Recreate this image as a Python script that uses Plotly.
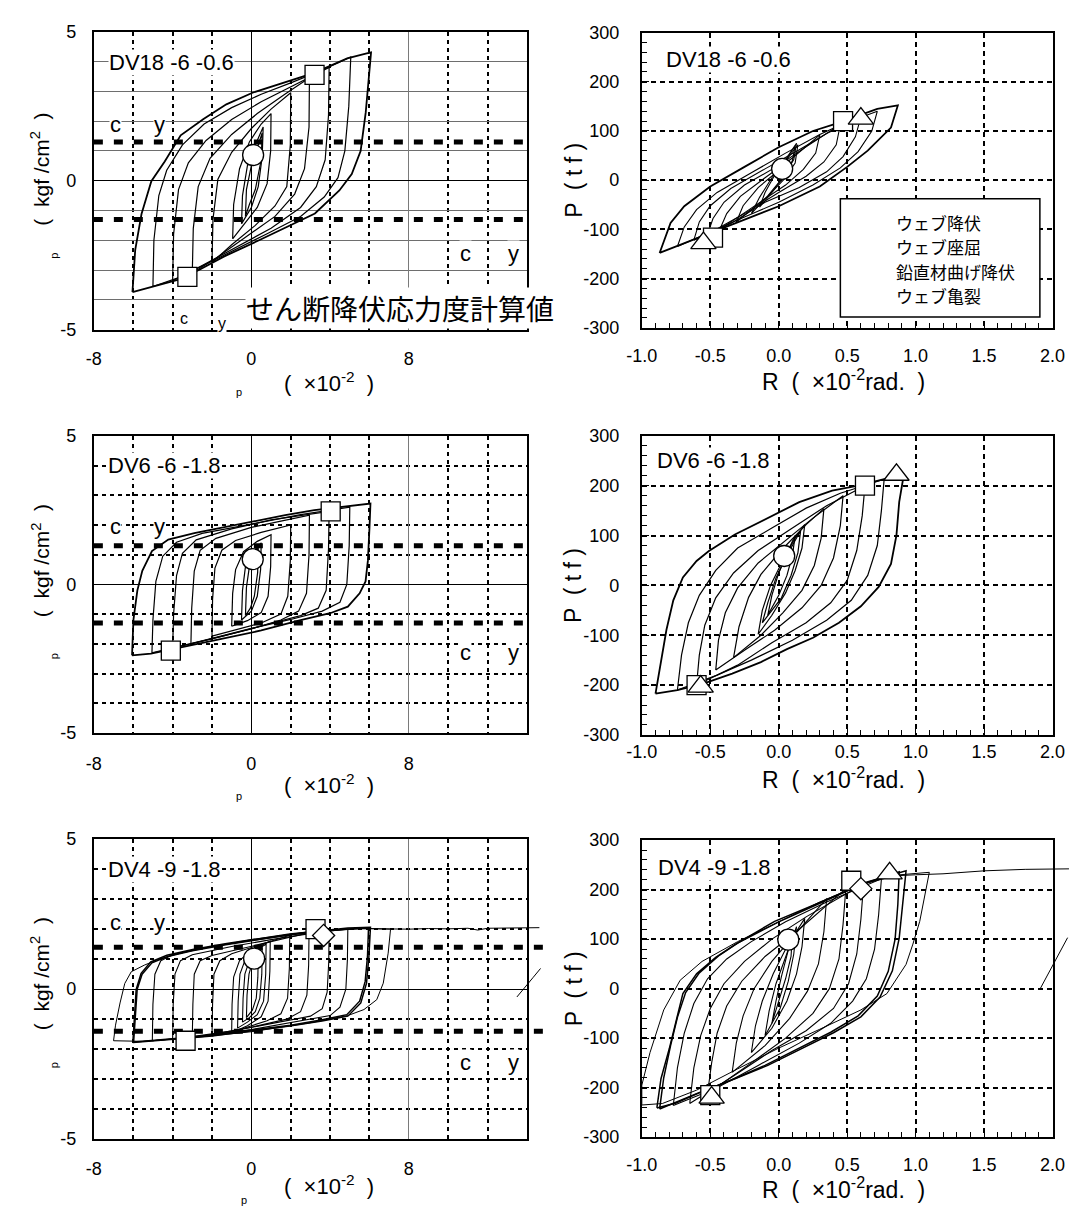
import plotly.graph_objects as go

W, H = 1085, 1218
SANS = "Liberation Sans, Arial, Helvetica, sans-serif"
JP = "Noto Sans CJK JP, Noto Sans CJK SC, sans-serif"

# ---------------- tick labels / texts ----------------
LEFT_XTICKS = [-8, 0, 8]
LEFT_YTICKS = [-5, 0, 5]
LEFT_XGRID = [-6, -4, -2, 2, 4, 6, 10, 12]
LEFT_YGRID = [-4, -3, -2, -1, 1, 2, 3, 4]
RIGHT_XTICKS = [-1.0, -0.5, 0.0, 0.5, 1.0, 1.5, 2.0]
RIGHT_XTEXT = ["-1.0", "-0.5", "0.0", "0.5", "1.0", "1.5", "2.0"]
RIGHT_YTICKS = [-300, -200, -100, 0, 100, 200, 300]
SPECIMENS = ["DV18 -6 -0.6", "DV6 -6 -1.8", "DV4 -9 -1.8"]
TAU_CY = [1.3, 1.3, 1.4]
LEGEND_LABELS = ["ウェブ降伏", "ウェブ座屈", "鉛直材曲げ降伏", "ウェブ亀裂"]
CALC_LABEL = "せん断降伏応力度計算値"

# ---------------- panel 1 : DV18-6-0.6  (tau_p vs gamma_p) ----------------
P1_OUTER = [(-6.04, -3.74), (-5.9, -2.33), (-5.58, -1.12), (-5.08, -0.02), (-4.4, 0.64), (-3.59, 1.52),
            (-2.43, 2.07), (-1.27, 2.56), (0.06, 2.95), (1.56, 3.28), (2.88, 3.55), (3.71, 3.77), (4.87, 4.1),
            (5.86, 4.27), (6.08, 4.3), (5.81, 2.29), (5.55, 0.99), (5.1, 0.22), (4.47, -0.33), (3.23, -1.1),
            (2.17, -1.44), (0.39, -2.0), (-1.4, -2.55), (-2.64, -2.99), (-3.7, -3.32), (-4.94, -3.54), (-6.04, -3.74)]
P1_INNER = [
    [(-5.0, -3.55), (-4.95, -2.0), (-4.7, -0.5), (-4.3, 0.35), (-3.5, 1.2), (-2.4, 1.9), (-1.0, 2.45), (0.5, 2.9),
     (2.0, 3.28), (3.5, 3.68), (5.05, 4.15), (4.95, 2.5), (4.75, 1.0), (4.4, 0.1), (3.7, -0.55), (2.5, -1.2),
     (0.8, -1.78), (-1.0, -2.38), (-2.6, -2.9), (-3.8, -3.28), (-5.0, -3.55)],
    [(-4.0, -3.36), (-3.95, -1.8), (-3.7, -0.3), (-3.2, 0.6), (-2.3, 1.35), (-1.0, 2.05), (0.5, 2.65), (2.0, 3.15),
     (3.95, 3.8), (3.92, 2.2), (3.75, 0.7), (3.3, -0.2), (2.5, -0.9), (1.0, -1.6), (-0.8, -2.25), (-2.5, -2.85),
     (-4.0, -3.36)],
    [(-3.0, -3.1), (-2.95, -1.6), (-2.7, -0.2), (-2.1, 0.75), (-1.0, 1.55), (0.3, 2.25), (1.7, 2.9), (2.95, 3.45),
     (2.93, 1.8), (2.7, 0.4), (2.2, -0.45), (1.2, -1.2), (-0.3, -1.9), (-1.8, -2.6), (-3.0, -3.1)],
    [(-2.0, -2.75), (-1.95, -1.3), (-1.7, 0.05), (-1.0, 0.95), (0.0, 1.75), (1.0, 2.4), (2.0, 2.95),
     (1.98, 1.2), (1.8, -0.2), (1.2, -0.85), (0.2, -1.5), (-1.0, -2.15), (-2.0, -2.75)],
    [(-0.95, -1.95), (-0.9, -0.8), (-0.6, 0.4), (-0.1, 1.3), (0.5, 1.9), (1.0, 2.25),
     (0.98, 1.0), (0.8, -0.1), (0.3, -0.9), (-0.4, -1.5), (-0.95, -1.95)],
    [(-0.5, -1.45), (-0.45, -0.5), (-0.2, 0.5), (0.2, 1.2), (0.6, 1.8), (0.55, 0.8), (0.35, -0.2), (0.0, -0.9),
     (-0.5, -1.45)],
    [(-0.3, -1.2), (-0.25, -0.3), (0.0, 0.5), (0.4, 1.3), (0.55, 1.6), (0.5, 0.7), (0.2, -0.3), (-0.1, -0.8),
     (-0.3, -1.2)],
]
P1_CIRCLE = [(0.09, 0.86)]
P1_SQUARE = [(3.21, 3.55), (-3.25, -3.23)]

# ---------------- panel 2 : DV18-6-0.6  (P vs R) ----------------
P2_OUTER = [(-0.87, -148), (-0.79, -87), (-0.69, -53), (-0.5, -13), (-0.25, 27), (0.0, 67), (0.25, 100),
            (0.42, 115), (0.72, 145), (0.87, 152), (0.82, 107), (0.65, 60), (0.5, 27), (0.3, -13), (0.0, -53),
            (-0.25, -80), (-0.5, -107), (-0.69, -127), (-0.87, -148)]
P2_INNER = [
    [(-0.74, -135), (-0.69, -95), (-0.6, -60), (-0.45, -25), (-0.2, 15), (0.05, 55), (0.3, 93), (0.45, 112),
     (0.72, 140), (0.68, 100), (0.58, 58), (0.45, 25), (0.25, -10), (0.0, -45), (-0.25, -75), (-0.5, -105),
     (-0.74, -135)],
    [(-0.62, -122), (-0.58, -85), (-0.5, -52), (-0.35, -17), (-0.1, 23), (0.15, 62), (0.35, 95), (0.6, 128),
     (0.56, 88), (0.47, 48), (0.35, 17), (0.15, -15), (-0.1, -45), (-0.35, -88), (-0.62, -122)],
    [(-0.52, -110), (-0.48, -78), (-0.4, -45), (-0.25, -10), (0.0, 30), (0.2, 68), (0.45, 113),
     (0.42, 72), (0.33, 37), (0.2, 8), (0.0, -25), (-0.25, -68), (-0.52, -110)],
    [(-0.43, -100), (-0.38, -68), (-0.28, -33), (-0.1, 5), (0.1, 45), (0.3, 92),
     (0.27, 55), (0.18, 22), (0.05, -10), (-0.15, -48), (-0.43, -100)],
    [(-0.31, -85), (-0.26, -52), (-0.15, -15), (0.0, 20), (0.14, 72),
     (0.12, 35), (0.04, 2), (-0.08, -33), (-0.31, -85)],
    [(-0.2, -68), (-0.14, -35), (-0.05, 5), (0.05, 42), (0.13, 75), (0.11, 42), (0.03, 5), (-0.08, -32), (-0.2, -68)],
    [(-0.14, -55), (-0.1, -25), (-0.03, 10), (0.05, 40), (0.12, 70), (0.1, 40), (0.04, 8), (-0.05, -25), (-0.14, -55)],
]
P2_CIRCLE = [(0.025, 23)]
P2_SQUARE = [(0.47, 120), (-0.48, -117)]
P2_TRIANGLE = [(0.6, 125), (-0.55, -128)]

# ---------------- panel 3 : DV6-6-1.8  (tau_p vs gamma_p) ----------------
P3_OUTER = [(-6.06, -2.39), (-5.99, -1.19), (-5.79, -0.2), (-5.54, 0.46), (-5.05, 1.12), (-4.22, 1.51),
            (-2.9, 1.73), (-1.25, 1.95), (0.07, 2.11), (1.72, 2.33), (3.2, 2.5), (4.52, 2.61), (6.05, 2.72),
            (6.0, 1.9), (5.92, 0.8), (5.8, 0.1), (5.5, -0.3), (4.9, -0.75), (4.0, -0.97), (2.5, -1.2),
            (0.5, -1.55), (-2.0, -1.9), (-4.0, -2.18), (-5.1, -2.33), (-6.06, -2.39)]
P3_INNER = [
    [(-5.05, -2.3), (-5.0, -1.2), (-4.85, 0.1), (-4.5, 0.95), (-3.8, 1.42), (-2.5, 1.72), (0.0, 2.03), (2.5, 2.35),
     (5.0, 2.6), (4.97, 1.3), (4.85, 0.0), (4.5, -0.6), (3.6, -0.9), (2.0, -1.18), (0.0, -1.48), (-2.5, -1.9),
     (-5.05, -2.3)],
    [(-4.0, -2.15), (-3.95, -1.0), (-3.8, 0.3), (-3.5, 1.05), (-2.8, 1.5), (-1.0, 1.87), (1.0, 2.17), (3.95, 2.46),
     (3.92, 1.2), (3.8, -0.2), (3.4, -0.8), (2.5, -1.05), (0.5, -1.4), (-1.5, -1.75), (-4.0, -2.15)],
    [(-3.07, -2.0), (-3.03, -0.8), (-2.9, 0.45), (-2.6, 1.15), (-1.8, 1.55), (0.0, 1.92), (1.5, 2.13), (2.95, 2.33),
     (2.93, 1.0), (2.8, -0.3), (2.4, -0.9), (1.5, -1.2), (0.0, -1.5), (-1.5, -1.75), (-3.07, -2.0)],
    [(-2.0, -1.74), (-1.97, -0.5), (-1.85, 0.55), (-1.5, 1.15), (-0.8, 1.48), (0.5, 1.75), (2.0, 2.0),
     (1.98, 0.8), (1.85, -0.4), (1.5, -1.0), (0.5, -1.3), (-0.8, -1.52), (-2.0, -1.74)],
    [(-1.0, -1.41), (-0.95, -0.3), (-0.8, 0.5), (-0.4, 1.1), (0.3, 1.45), (1.0, 1.67),
     (0.98, 0.6), (0.85, -0.4), (0.5, -0.95), (-0.2, -1.22), (-1.0, -1.41)],
    [(-0.5, -1.2), (-0.45, -0.2), (-0.3, 0.6), (0.1, 1.1), (0.5, 1.4), (0.47, 0.5), (0.3, -0.4), (0.0, -0.9),
     (-0.5, -1.2)],
    [(-0.3, -1.05), (-0.25, -0.1), (-0.1, 0.6), (0.2, 1.05), (0.35, 1.25), (0.32, 0.4), (0.15, -0.4),
     (-0.05, -0.8), (-0.3, -1.05)],
]
P3_CIRCLE = [(0.07, 0.85)]
P3_SQUARE = [(4.03, 2.46), (-4.09, -2.23)]

# ---------------- panel 4 : DV6-6-1.8  (P vs R) ----------------
P4_OUTER = [(-0.9, -217), (-0.86, -154), (-0.82, -89), (-0.77, -30), (-0.7, 16), (-0.6, 49), (-0.51, 69),
            (-0.32, 102), (-0.08, 135), (0.15, 167), (0.39, 190), (0.58, 200), (0.77, 213), (0.91, 216),
            (0.88, 167), (0.86, 101), (0.82, 43), (0.73, -3), (0.6, -42), (0.44, -75), (0.25, -105), (0.06, -128),
            (-0.13, -154), (-0.34, -177), (-0.55, -197), (-0.74, -210), (-0.9, -217)]
P4_INNER = [
    [(-0.74, -210), (-0.71, -140), (-0.66, -75), (-0.58, -20), (-0.46, 30), (-0.3, 75), (-0.05, 115), (0.2, 155),
     (0.45, 185), (0.77, 213), (0.75, 150), (0.72, 80), (0.65, 20), (0.53, -30), (0.35, -70), (0.1, -110),
     (-0.2, -150), (-0.45, -180), (-0.74, -210)],
    [(-0.6, -200), (-0.58, -140), (-0.54, -80), (-0.46, -25), (-0.33, 25), (-0.15, 70), (0.1, 115), (0.35, 160),
     (0.63, 200), (0.61, 140), (0.57, 70), (0.5, 10), (0.38, -35), (0.2, -75), (-0.05, -115), (-0.3, -160),
     (-0.6, -200)],
    [(-0.46, -170), (-0.44, -110), (-0.39, -55), (-0.3, -5), (-0.15, 45), (0.05, 90), (0.25, 135), (0.47, 180),
     (0.45, 120), (0.4, 55), (0.31, 0), (0.17, -45), (-0.03, -90), (-0.25, -130), (-0.46, -170)],
    [(-0.33, -145), (-0.29, -83), (-0.22, -24), (-0.13, 22), (0.01, 68), (0.2, 122), (0.33, 154),
     (0.31, 95), (0.26, 40), (0.17, -10), (0.03, -55), (-0.13, -100), (-0.33, -145)],
    [(-0.15, -98), (-0.12, -50), (-0.06, 0), (0.03, 50), (0.12, 95), (0.19, 122),
     (0.17, 75), (0.12, 30), (0.05, -15), (-0.05, -60), (-0.15, -98)],
    [(-0.12, -75), (-0.08, -35), (-0.02, 15), (0.06, 60), (0.16, 110), (0.14, 65), (0.09, 20), (0.02, -25),
     (-0.12, -75)],
    [(-0.08, -60), (-0.05, -20), (0.0, 25), (0.06, 65), (0.12, 100), (0.1, 60), (0.06, 20), (0.0, -20), (-0.08, -60)],
]
P4_CIRCLE = [(0.04, 59)]
P4_SQUARE = [(0.63, 200), (-0.6, -200)]
P4_TRIANGLE = [(0.86, 222), (-0.57, -203)]

# ---------------- panel 5 : DV4-9-1.8  (tau_p vs gamma_p) ----------------
P5_OUTER = [
    [(-6.02, -1.78), (-5.94, -0.79), (-5.85, -0.01), (-5.6, 0.53), (-5.11, 0.91), (-4.29, 1.13), (-2.98, 1.32),
     (-1.33, 1.51), (0.3, 1.68), (1.95, 1.84), (3.59, 1.95), (4.9, 2.04), (6.05, 2.06), (5.97, 1.07),
     (5.85, 0.2), (5.56, -0.46), (4.9, -0.9), (3.59, -1.06), (1.95, -1.23), (-0.02, -1.4), (-1.99, -1.56),
     (-3.96, -1.67), (-6.02, -1.78)],
    [(-5.98, -1.76), (-5.9, -0.8), (-5.8, 0.0), (-5.55, 0.5), (-5.05, 0.88), (-4.2, 1.1), (-3.0, 1.28),
     (-1.3, 1.48), (0.3, 1.65), (2.0, 1.82), (3.6, 1.93), (4.9, 2.0), (5.95, 2.03), (5.9, 1.1), (5.78, 0.25),
     (5.5, -0.4), (4.85, -0.85), (3.6, -1.02), (2.0, -1.2), (0.0, -1.37), (-2.0, -1.53), (-4.0, -1.65),
     (-5.98, -1.76)],
]
P5_FINAL = [
    [(3.0, 1.92), (5.5, 2.03), (7.07, 2.0), (6.95, 1.2), (6.7, 0.2), (6.37, -0.35), (5.72, -0.68), (4.9, -0.88),
     (3.0, -1.12), (0.0, -1.42), (-3.0, -1.62), (-5.5, -1.74), (-7.0, -1.72), (-6.9, -1.2), (-6.67, -0.46),
     (-6.43, 0.19), (-6.1, 0.58), (-5.44, 0.8), (-4.62, 1.02), (-3.0, 1.3), (0.0, 1.65), (3.0, 1.92),
     (5.5, 2.02), (7.07, 2.0), (8.0, 2.0), (9.0, 2.02), (10.0, 2.01), (11.0, 2.03), (11.5, 1.97), (12.0, 2.03),
     (13.0, 2.04), (14.0, 2.04), (14.63, 2.05)],
    [(13.49, -0.26), (13.9, 0.05), (14.3, 0.38), (14.69, 0.69)],
]
P5_INNER = [
    [(-5.03, -1.72), (-5.0, -0.5), (-4.9, 0.5), (-4.6, 0.95), (-4.0, 1.15), (-2.0, 1.42), (0.0, 1.62), (2.5, 1.85),
     (4.9, 2.0), (4.88, 1.0), (4.8, 0.0), (4.5, -0.6), (4.0, -0.88), (2.0, -1.12), (0.0, -1.35), (-2.5, -1.56),
     (-5.03, -1.72)],
    [(-4.0, -1.67), (-3.97, -0.5), (-3.88, 0.5), (-3.6, 0.95), (-3.0, 1.15), (-1.0, 1.42), (1.0, 1.65), (3.95, 1.95),
     (3.93, 0.9), (3.85, -0.1), (3.6, -0.65), (3.0, -0.9), (1.0, -1.15), (-1.0, -1.4), (-4.0, -1.67)],
    [(-3.0, -1.62), (-2.97, -0.5), (-2.9, 0.5), (-2.6, 0.95), (-2.0, 1.12), (0.0, 1.43), (2.93, 1.88),
     (2.91, 0.8), (2.82, -0.2), (2.5, -0.75), (1.8, -1.0), (0.0, -1.27), (-3.0, -1.62)],
    [(-2.0, -1.56), (-1.97, -0.5), (-1.9, 0.5), (-1.6, 0.95), (-1.0, 1.18), (0.5, 1.5), (1.95, 1.8),
     (1.93, 0.7), (1.84, -0.3), (1.5, -0.82), (0.8, -1.05), (-0.5, -1.33), (-2.0, -1.56)],
    [(-1.0, -1.45), (-0.98, -0.5), (-0.9, 0.4), (-0.6, 0.95), (0.0, 1.3), (0.96, 1.6),
     (0.94, 0.6), (0.85, -0.4), (0.5, -0.92), (-0.2, -1.22), (-1.0, -1.45)],
    [(-0.7, -1.3), (-0.67, -0.4), (-0.58, 0.5), (-0.3, 1.0), (0.2, 1.3), (0.75, 1.5), (0.73, 0.5), (0.62, -0.4),
     (0.3, -0.85), (-0.2, -1.1), (-0.7, -1.3)],
    [(-0.45, -1.1), (-0.42, -0.3), (-0.33, 0.5), (-0.1, 0.95), (0.25, 1.2), (0.55, 1.35), (0.53, 0.5),
     (0.43, -0.3), (0.2, -0.75), (-0.1, -0.95), (-0.45, -1.1)],
    [(-0.25, -0.95), (-0.22, -0.2), (-0.12, 0.5), (0.05, 0.9), (0.3, 1.1), (0.35, 1.15), (0.33, 0.4),
     (0.25, -0.3), (0.05, -0.7), (-0.25, -0.95)],
]
P5_CIRCLE = [(0.14, 1.02)]
P5_SQUARE = [(3.26, 2.0), (-3.34, -1.72)]
P5_DIAMOND = [(3.67, 1.79)]

# ---------------- panel 6 : DV4-9-1.8  (P vs R) ----------------
P6_OUTER = [
    [(-0.89, -241), (-0.86, -182), (-0.8, -122), (-0.75, -63), (-0.7, -10), (-0.6, 30), (-0.46, 63), (-0.32, 89),
     (-0.03, 136), (0.31, 175), (0.64, 215), (0.93, 238), (0.91, 180), (0.88, 102), (0.83, 36), (0.74, -17),
     (0.6, -57), (0.4, -89), (0.16, -122), (-0.08, -155), (-0.32, -182), (-0.56, -208), (-0.75, -231),
     (-0.89, -241)],
    [(-0.87, -243), (-0.84, -180), (-0.79, -115), (-0.74, -58), (-0.68, -8), (-0.58, 32), (-0.44, 66), (-0.3, 92),
     (0.0, 135), (0.3, 172), (0.6, 210), (0.88, 236), (0.87, 170), (0.85, 100), (0.8, 35), (0.72, -15),
     (0.58, -55), (0.38, -88), (0.15, -120), (-0.1, -155), (-0.35, -185), (-0.6, -212), (-0.87, -243)],
]
P6_FINAL = [
    [(0.5, 200), (0.8, 228), (1.1, 235), (1.06, 180), (1.03, 136), (0.98, 90), (0.93, 49), (0.79, -10),
     (0.6, -43), (0.3, -82), (0.0, -120), (-0.3, -162), (-0.6, -205), (-0.85, -232), (-1.0, -235),
     (-1.0, -195), (-0.94, -129), (-0.84, -43), (-0.72, 17), (-0.56, 55), (-0.3, 95), (0.0, 135), (0.3, 175),
     (0.6, 210), (0.85, 228), (1.0, 230), (1.2, 232), (1.5, 238), (1.8, 241), (2.12, 242)],
    [(1.91, 0), (1.97, 30), (2.03, 60), (2.11, 103)],
]
P6_INNER = [
    [(-0.77, -236), (-0.74, -160), (-0.69, -90), (-0.62, -30), (-0.52, 20), (-0.38, 60), (-0.2, 95), (0.05, 135),
     (0.35, 175), (0.75, 222), (0.73, 150), (0.7, 80), (0.64, 20), (0.54, -25), (0.38, -70), (0.15, -110),
     (-0.15, -155), (-0.45, -200), (-0.77, -236)],
    [(-0.65, -232), (-0.62, -160), (-0.57, -95), (-0.5, -40), (-0.4, 10), (-0.25, 55), (-0.05, 100), (0.2, 145),
     (0.62, 212), (0.6, 140), (0.57, 70), (0.51, 10), (0.4, -40), (0.2, -85), (-0.05, -125), (-0.35, -180),
     (-0.65, -232)],
    [(-0.52, -212), (-0.49, -150), (-0.45, -90), (-0.38, -35), (-0.27, 15), (-0.1, 65), (0.15, 120), (0.49, 202),
     (0.47, 130), (0.44, 60), (0.37, 0), (0.25, -50), (0.05, -100), (-0.2, -150), (-0.52, -212)],
    [(-0.34, -169), (-0.31, -110), (-0.26, -55), (-0.18, 0), (-0.05, 55), (0.12, 110), (0.35, 182),
     (0.33, 115), (0.29, 50), (0.21, -5), (0.08, -60), (-0.1, -115), (-0.34, -169)],
    [(-0.2, -129), (-0.17, -75), (-0.12, -25), (-0.04, 30), (0.06, 85), (0.19, 142),
     (0.17, 85), (0.13, 30), (0.06, -25), (-0.05, -80), (-0.2, -129)],
    [(-0.1, -95), (-0.07, -45), (-0.02, 10), (0.05, 65), (0.13, 125), (0.11, 70), (0.07, 15), (0.01, -40),
     (-0.1, -95)],
    [(-0.05, -70), (-0.02, -25), (0.02, 25), (0.06, 70), (0.1, 110), (0.09, 65), (0.05, 20), (0.0, -25),
     (-0.05, -70)],
]
P6_CIRCLE = [(0.07, 99)]
P6_SQUARE = [(0.53, 218), (-0.5, -215)]
P6_DIAMOND = [(0.6, 202)]
P6_TRIANGLE = [(0.81, 233), (-0.49, -220)]

# ---------------- figure ----------------
fig = go.Figure()


def ax(n):
    return ("x" + n, "y" + n)


def add_loops(loops, n, width):
    xs, ys = [], []
    for lp in loops:
        xs += [p[0] for p in lp] + [None]
        ys += [p[1] for p in lp] + [None]
    xa, ya = ax(n)
    fig.add_trace(go.Scatter(x=xs, y=ys, mode="lines", line=dict(color="black", width=width),
                             xaxis=xa, yaxis=ya, hoverinfo="skip", showlegend=False))


def add_markers(pts, n, symbol, size):
    xa, ya = ax(n)
    fig.add_trace(go.Scatter(x=[p[0] for p in pts], y=[p[1] for p in pts], mode="markers",
                             marker=dict(symbol=symbol, size=size, color="white",
                                         line=dict(color="black", width=1.3)),
                             xaxis=xa, yaxis=ya, cliponaxis=False, hoverinfo="skip", showlegend=False))


def add_tau(v, n, x0, x1):
    xa, ya = ax(n)
    fig.add_trace(go.Scatter(x=[x0, x1, None, x0, x1], y=[v, v, None, -v, -v], mode="lines",
                             line=dict(color="black", width=5, dash="9px,11px"),
                             xaxis=xa, yaxis=ya, hoverinfo="skip", showlegend=False))


# panel 1
add_tau(TAU_CY[0], "", -8, 14)
add_loops(P1_INNER, "", 1.2)
add_loops([P1_OUTER], "", 1.8)
add_markers(P1_CIRCLE, "", "circle", 21)
add_markers(P1_SQUARE, "", "square", 19)
# panel 2
add_loops(P2_INNER, "2", 1.1)
add_loops([P2_OUTER], "2", 1.8)
add_markers(P2_CIRCLE, "2", "circle", 21)
add_markers(P2_SQUARE, "2", "square", 19)
add_markers(P2_TRIANGLE, "2", "triangle-up", 22)
# panel 3
add_tau(TAU_CY[1], "3", -8, 14)
add_loops(P3_INNER, "3", 1.2)
add_loops([P3_OUTER], "3", 1.8)
add_markers(P3_CIRCLE, "3", "circle", 21)
add_markers(P3_SQUARE, "3", "square", 19)
# panel 4
add_loops(P4_INNER, "4", 1.2)
add_loops([P4_OUTER], "4", 1.8)
add_markers(P4_CIRCLE, "4", "circle", 21)
add_markers(P4_SQUARE, "4", "square", 19)
add_markers(P4_TRIANGLE, "4", "triangle-up", 22)
# panel 5 (data drawn on a slightly wider overlay so curves run past the frame, as in the original)
add_tau(TAU_CY[2], "7", -8, 14.9)
add_loops(P5_INNER, "7", 1.1)
add_loops(P5_FINAL, "7", 1.0)
add_loops(P5_OUTER, "7", 1.5)
add_markers(P5_CIRCLE, "7", "circle", 21)
add_markers(P5_SQUARE, "7", "square", 19)
add_markers(P5_DIAMOND, "7", "diamond", 17)
# panel 6
add_loops(P6_INNER, "8", 1.1)
add_loops(P6_FINAL, "8", 1.0)
add_loops(P6_OUTER, "8", 1.5)
add_markers(P6_CIRCLE, "8", "circle", 21)
add_markers(P6_SQUARE, "8", "square", 19)
add_markers(P6_DIAMOND, "8", "diamond", 17)
add_markers(P6_TRIANGLE, "8", "triangle-up", 22)


def dx(a, b):
    return [a / W, b / W]


def dy(top, bot):
    return [1 - bot / H, 1 - top / H]


TICKFONT = dict(family=SANS, size=18, color="black")
FRAME = dict(showline=True, mirror=True, linecolor="black", linewidth=2, fixedrange=True)


def left_x(dom, anchor, standoff):
    return dict(domain=dom, anchor=anchor, range=[-8, 14], tickmode="array", tickvals=LEFT_XTICKS,
                ticktext=[str(v) for v in LEFT_XTICKS], showgrid=True, gridcolor="#7a7a7a", gridwidth=1.3,
                zeroline=True, zerolinecolor="black", zerolinewidth=1.2, ticks="", tickfont=TICKFONT,
                ticklabelstandoff=standoff,
                minor=dict(tickmode="array", tickvals=LEFT_XGRID, showgrid=True, gridcolor="black",
                           gridwidth=1.6, griddash="4px,4px", ticks=""), **FRAME)


def left_y(dom, anchor, solid):
    if solid:
        mn = dict(tickmode="array", tickvals=LEFT_YGRID, showgrid=True, gridcolor="#6e6e6e", gridwidth=1.4,
                  griddash="solid", ticks="")
    else:
        mn = dict(tickmode="array", tickvals=LEFT_YGRID, showgrid=True, gridcolor="black", gridwidth=1.6,
                  griddash="4px,4px", ticks="")
    return dict(domain=dom, anchor=anchor, range=[-5, 5], tickmode="array", tickvals=LEFT_YTICKS,
                ticktext=[str(v) for v in LEFT_YTICKS], showgrid=False, zeroline=True, zerolinecolor="black",
                zerolinewidth=1.2, ticks="", tickfont=TICKFONT, ticklabelstandoff=12, minor=mn, **FRAME)


def right_x(dom, anchor, standoff):
    return dict(domain=dom, anchor=anchor, range=[-1, 2], tickmode="array", tickvals=RIGHT_XTICKS,
                ticktext=RIGHT_XTEXT, showgrid=True, gridcolor="black", gridwidth=1.6, griddash="5px,4px",
                zeroline=False, ticks="inside", ticklen=7, tickwidth=1.4, tickcolor="black", tickfont=TICKFONT,
                ticklabelstandoff=standoff,
                minor=dict(tickmode="linear", tick0=0, dtick=0.1, ticks="inside", ticklen=5, tickwidth=1.2,
                           tickcolor="black", showgrid=False), **FRAME)


def right_y(dom, anchor):
    return dict(domain=dom, anchor=anchor, range=[-300, 300], tickmode="array", tickvals=RIGHT_YTICKS,
                ticktext=[str(v) for v in RIGHT_YTICKS], showgrid=True, gridcolor="black", gridwidth=1.6,
                griddash="5px,4px", zeroline=False, ticks="inside", ticklen=7, tickwidth=1.4, tickcolor="black",
                tickfont=TICKFONT, ticklabelstandoff=17,
                minor=dict(tickmode="linear", tick0=0, dtick=20, ticks="inside", ticklen=5, tickwidth=1.2,
                           tickcolor="black", showgrid=False), **FRAME)


LX = dx(80, 525)
RX = dx(643, 1065)

layout = dict(
    width=W, height=H, margin=dict(l=0, r=0, t=0, b=0, pad=0),
    paper_bgcolor="white", plot_bgcolor="rgba(0,0,0,0)", showlegend=False,
    font=dict(family=SANS, color="black"),
    xaxis=left_x(LX, "y", 12), yaxis=left_y(dy(22, 325), "x", True),
    xaxis2=right_x(RX, "y2", 11), yaxis2=right_y(dy(23, 323), "x2"),
    xaxis3=left_x(LX, "y3", 13), yaxis3=left_y(dy(433, 735), "x3", False),
    xaxis4=right_x(RX, "y4", 0), yaxis4=right_y(dy(433, 737), "x4"),
    xaxis5=left_x(LX, "y5", 12), yaxis5=left_y(dy(843, 1148), "x5", False),
    xaxis6=right_x(RX, "y6", 10), yaxis6=right_y(dy(844, 1146), "x6"),
    xaxis7=dict(domain=dx(80, 543.2), anchor="y7", range=[-8, 14.9], visible=False, fixedrange=True),
    yaxis7=dict(domain=dy(843, 1148), anchor="x7", range=[-5, 5], visible=False, fixedrange=True),
    xaxis8=dict(domain=dx(643, 1083.3), anchor="y8", range=[-1, 2.13], visible=False, fixedrange=True),
    yaxis8=dict(domain=dy(844, 1146), anchor="x8", range=[-300, 300], visible=False, fixedrange=True),
)

ann = []


def dtext(text, x, y, n, size, family=SANS, anchor="center", bg="white"):
    ann.append(dict(text=text, x=x, y=y, xref="x" + n, yref="y" + n, showarrow=False,
                    font=dict(size=size, family=family, color="black"), xanchor=anchor, yanchor="middle",
                    bgcolor=bg, borderpad=0))


def ptext(text, px, py, size, angle=0, family=SANS, anchor="center", align="center"):
    ann.append(dict(text=text, x=px / W, y=1 - py / H, xref="paper", yref="paper", showarrow=False,
                    textangle=angle, font=dict(size=size, family=family, color="black"),
                    xanchor=anchor, yanchor="middle", align=align))


# specimen names
dtext(SPECIMENS[0], -7.3, 3.95, "", 22, anchor="left")
dtext(SPECIMENS[0], -0.83, 245, "2", 22, anchor="left")
dtext(SPECIMENS[1], -7.35, 4.0, "3", 22, anchor="left")
dtext(SPECIMENS[1], -0.9, 251, "4", 22, anchor="left")
dtext(SPECIMENS[2], -7.35, 4.0, "5", 22, anchor="left")
dtext(SPECIMENS[2], -0.89, 244, "6", 22, anchor="left")

# tau_cy labels (Greek letters lost in the original, only subscripts remain)
for (n, yl, yr) in [("", 1.9, -2.44), ("3", 1.95, -2.29), ("5", 2.23, -2.43)]:
    dtext("c", -6.9, yl, n, 22)
    dtext("y", -4.65, yl, n, 22)
    dtext("c", 10.9, yr, n, 22)
    dtext("y", 13.3, yr, n, 22)
dtext("c", -3.43, -4.63, "", 16)
dtext("y", -1.47, -4.8, "", 16)
dtext(CALC_LABEL, -0.3, -4.26, "", 28, family=JP, anchor="left")

# axis titles, left column
for (cy, py_, xt, pxp, pyp) in [(162, 250, 378, 229, 388), (560, 657, 787, 229, 799), (980, 1073, 1195, 234, 1210)]:
    ptext("(  kgf /cm<sup>2</sup>  )", 25, cy, 21, angle=-90)
    ptext("p", 39, py_, 11, angle=-90)
    ptext("(  ×10<sup>-2</sup>  )", 322, xt, 22)
    ptext("p", pxp, pyp, 11)

# axis titles, right column
for (cy, xt) in [(173, 376), (585, 781), (995, 1198)]:
    ptext("P  ( t f )", 573, cy, 23, angle=-90)
    ptext("R  (  ×10<sup>-2</sup>rad.  )", 850, xt, 23)

# legend box of panel 2 (symbols not printed in the original)
for i, lab in enumerate(LEGEND_LABELS):
    ptext(lab, 902, 216 + i * 24.8, 17, family=JP, anchor="left", align="left")

layout["annotations"] = ann
layout["shapes"] = [dict(type="rect", xref="paper", yref="paper", x0=847 / W, x1=1052 / W,
                         y0=1 - 312 / H, y1=1 - 192 / H, line=dict(color="black", width=1.5),
                         fillcolor="white", layer="above")]

fig.update_layout(**layout)
fig.write_html("out.html", config={"displayModeBar": False},
               post_script="document.body.style.margin='0px';")
